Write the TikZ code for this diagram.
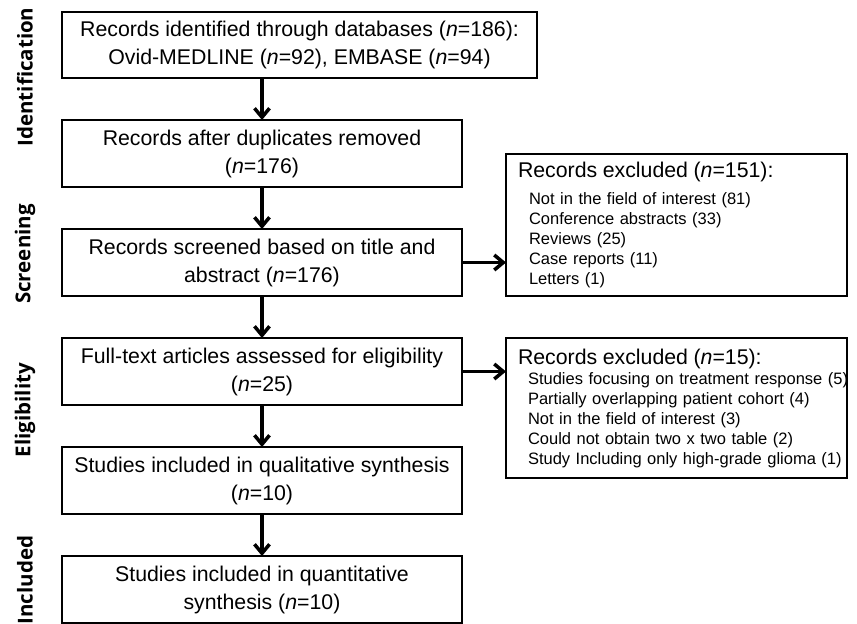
\documentclass[tikz,border=0pt]{standalone}
\usepackage{fontspec}
\setmainfont{Liberation Sans}
\newfontfamily\phasefont{Open Sans}
\usepackage{tikz}
\usetikzlibrary{arrows.meta, positioning}

\begin{document}
\begin{tikzpicture}[
  x=1pt, y=-1pt,
  node distance=42pt and 44pt,
  every node/.style={font=\fontsize{21.3}{28}\selectfont},
  box/.style={rectangle, draw, line width=2.5pt, outer sep=0pt, inner sep=0pt, minimum width=400pt, minimum height=67pt, align=center},
  exbox/.style={rectangle, draw, line width=2.5pt, outer sep=0pt, inner xsep=12pt, inner ysep=0pt, text width=317pt, align=left, font=\fontsize{16.5}{20}\selectfont},
  phase/.style={rotate=90, font=\phasefont\bfseries\fontsize{20.5}{24}\selectfont},
  arr/.style={-{Straight Barb[length=9pt, width=15pt]}, line width=3.5pt}
]
\useasboundingbox (0,0) rectangle (857,624);
\clip (0,0) rectangle (857,624);

\node[box, minimum width=475pt, minimum height=66pt, anchor=north west] (ident) at (62,12) {Records identified through databases (\textit{n}=186):\\Ovid-MEDLINE (\textit{n}=92), EMBASE (\textit{n}=94)};
\node[box, below=of ident.south west, anchor=north west] (dupl) {Records after duplicates removed\\(\textit{n}=176)};
\node[box, below=of dupl] (screen) {Records screened based on title and\\abstract (\textit{n}=176)};
\node[box, below=of screen] (fulltext) {Full-text articles assessed for eligibility\\(\textit{n}=25)};
\node[box, below=of fulltext] (qual) {Studies included in qualitative synthesis\\(\textit{n}=10)};
\node[box, below=of qual] (quant) {Studies included in quantitative\\synthesis (\textit{n}=10)};

\node[exbox, minimum height=142pt, right=44pt of screen.south east, anchor=south west] (exscreen) {{\fontsize{21.3}{28}\selectfont Records excluded (\textit{n}=151):}\\[7pt]
\hspace*{11pt}Not in the field of interest (81)\\
\hspace*{11pt}Conference abstracts (33)\\
\hspace*{11pt}Reviews (25)\\
\hspace*{11pt}Case reports (11)\\
\hspace*{11pt}Letters (1)};
\node[exbox, minimum height=140pt, right=44pt of fulltext.north east, anchor=north west] (exelig) {{\fontsize{21.3}{28}\selectfont Records excluded (\textit{n}=15):}\\
\hspace*{10pt}\mbox{Studies focusing on treatment response (5)}\\
\hspace*{10pt}\mbox{Partially overlapping patient cohort (4)}\\
\hspace*{10pt}\mbox{Not in the field of interest (3)}\\
\hspace*{10pt}\mbox{Could not obtain two x two table (2)}\\
\hspace*{10pt}\mbox{Study Including only high-grade glioma (1)}};

\node[phase] (lblident) at (25,77) {Identification};
\node[phase] (lblscreen) at (25,254) {Screening};
\node[phase] (lblelig) at (25,410) {Eligibility};
\node[phase] (lblincl) at (25,580) {Included};

\draw[arr] (ident.south -| dupl.north) -- (dupl.north);
\draw[arr] (dupl) -- (screen);
\draw[arr] (screen) -- (fulltext);
\draw[arr] (fulltext) -- (qual);
\draw[arr] (qual) -- (quant);
\draw[arr] (screen.east) -- (screen.east -| exscreen.west);
\draw[arr] (fulltext.east) -- (fulltext.east -| exelig.west);

\end{tikzpicture}
\end{document}
